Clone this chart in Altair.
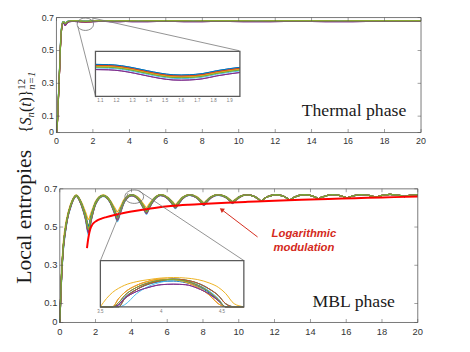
import altair as alt
import pandas as pd

# ---------------- data ----------------
line_names = [f"L{i:02d}" for i in range(1, 13)]
line_colors = ["#0072BD", "#D95319", "#EDB120", "#7E2F8E", "#77AC30", "#4DBEEE",
               "#A2142F", "#0072BD", "#D95319", "#EDB120", "#7E2F8E", "#77AC30"]

x_domain = [0, 20]
y_domain = [0, 0.7]
x_ticks = [0, 2, 4, 6, 8, 10, 12, 14, 16, 18, 20]
x_tick_labels = ["0", "2", "4", "6", "8", "10", "12", "14", "16", "18", "20"]
y_ticks = [0, 0.1, 0.3, 0.5, 0.7]
y_tick_labels = ["0", "0.1", "0.3", "0.5", "0.7"]

# thermal phase (top panel)
t_th = [0, 0.03, 0.06, 0.1, 0.14, 0.18, 0.22, 0.26, 0.3, 0.35, 0.41, 0.47, 0.54, 0.62, 0.72,
        0.85, 1.0, 1.2, 1.4, 1.6, 1.8, 2.0, 2.3, 2.7, 3.2, 3.8, 4.5, 5.5, 6.5, 7.5, 8.5, 9.5,
        11, 12.5, 14, 15.5, 17, 18.5, 20]
th_base = [0, 0.02, 0.08, 0.19, 0.30, 0.41, 0.53, 0.61, 0.65, 0.672, 0.673, 0.662, 0.668, 0.676,
           0.679, 0.68, 0.68, 0.679, 0.678, 0.677, 0.678, 0.679, 0.68, 0.68, 0.679, 0.68, 0.679,
           0.68, 0.68, 0.679, 0.68, 0.68, 0.679, 0.68, 0.68, 0.679, 0.68, 0.68, 0.68]
th_hi = [0, 0.022, 0.085, 0.2, 0.31, 0.42, 0.54, 0.62, 0.655, 0.675, 0.676, 0.666, 0.671, 0.678,
         0.681, 0.682, 0.682, 0.681, 0.680, 0.679, 0.680, 0.681, 0.682, 0.682, 0.681, 0.682, 0.681,
         0.682, 0.682, 0.681, 0.682, 0.682, 0.681, 0.682, 0.682, 0.681, 0.682, 0.682, 0.682]
th_lo = [0, 0.018, 0.075, 0.18, 0.29, 0.40, 0.52, 0.60, 0.645, 0.668, 0.670, 0.658, 0.664, 0.673,
         0.676, 0.677, 0.677, 0.676, 0.675, 0.674, 0.675, 0.676, 0.677, 0.677, 0.676, 0.677, 0.676,
         0.677, 0.677, 0.676, 0.677, 0.677, 0.676, 0.677, 0.677, 0.676, 0.677, 0.677, 0.677]
th_purple = [0, 0.018, 0.075, 0.18, 0.29, 0.40, 0.52, 0.60, 0.64, 0.664, 0.666, 0.652, 0.659, 0.671,
             0.675, 0.676, 0.676, 0.675, 0.674, 0.673, 0.674, 0.675, 0.676, 0.676, 0.675, 0.676, 0.675,
             0.676, 0.676, 0.675, 0.676, 0.676, 0.675, 0.676, 0.676, 0.675, 0.676, 0.676, 0.676]

# top inset (zoom of t in [1.07, 1.963])
tin_x_domain = [1.07, 1.963]
tin_y_domain = [0.668, 0.688]
tin_ticks = [1.1, 1.2, 1.3, 1.4, 1.5, 1.6, 1.7, 1.8, 1.9]
tin_tick_labels = ["1.1", "1.2", "1.3", "1.4", "1.5", "1.6", "1.7", "1.8", "1.9"]
t_tin = [1.07, 1.15, 1.23, 1.31, 1.39, 1.47, 1.55, 1.6, 1.65, 1.73, 1.82, 1.9, 1.963]
tin_blue = [0.6822, 0.6821, 0.6816, 0.6806, 0.6794, 0.6783, 0.6776, 0.6775, 0.6776, 0.6781, 0.6794, 0.6803, 0.6809]
tin_red = [0.6817, 0.6816, 0.6811, 0.6801, 0.6789, 0.6778, 0.6771, 0.6770, 0.6771, 0.6776, 0.6789, 0.6798, 0.6804]
tin_yel = [0.6813, 0.6812, 0.6807, 0.6797, 0.6785, 0.6774, 0.6767, 0.6766, 0.6767, 0.6772, 0.6785, 0.6794, 0.6800]
tin_green = [0.6810, 0.6809, 0.6804, 0.6794, 0.6782, 0.6771, 0.6764, 0.6763, 0.6764, 0.6769, 0.6782, 0.6791, 0.6797]
tin_cyan = [0.6806, 0.6805, 0.6800, 0.6790, 0.6778, 0.6767, 0.6760, 0.6759, 0.6760, 0.6765, 0.6778, 0.6787, 0.6793]
tin_purple = [0.6799, 0.6798, 0.6793, 0.6783, 0.6771, 0.6760, 0.6753, 0.6752, 0.6753, 0.6758, 0.6771, 0.6780, 0.6786]

# MBL phase (bottom panel)
t_head = [0, 0.05, 0.1, 0.2, 0.3, 0.45, 0.6, 0.75, 0.92, 1.2, 1.45, 1.6, 1.75, 2.0, 2.42, 2.82,
          3.07, 3.22, 3.37, 3.62, 4.02, 4.44, 4.69, 4.84, 4.99, 5.24, 5.64, 6.06, 6.31, 6.46, 6.61,
          6.86, 7.25, 7.65, 7.9, 8.05, 8.2, 8.45, 8.85, 9.25, 9.5, 9.65, 9.8, 10.05]
t_tail = [10.45, 10.85, 11.1, 11.25, 11.4, 11.65, 12.05, 12.45, 12.7, 12.85, 13.0, 13.25, 13.65,
          14.05, 14.3, 14.45, 14.6, 14.85, 15.25, 15.65, 15.9, 16.05, 16.2, 16.45, 16.85, 17.25,
          17.5, 17.65, 17.8, 18.05, 18.45, 18.85, 19.1, 19.25, 19.4, 19.65, 20.0]
mbl_base_head = [0, 0.13, 0.25, 0.40, 0.48, 0.56, 0.61, 0.645, 0.664, 0.622, 0.548, 0.487, 0.545,
                 0.625, 0.664, 0.632, 0.578, 0.546, 0.58, 0.638, 0.667, 0.641, 0.602, 0.578, 0.604,
                 0.642, 0.668, 0.649, 0.622, 0.604, 0.622, 0.652, 0.668, 0.655, 0.632, 0.618, 0.633,
                 0.656, 0.668, 0.658, 0.640, 0.628, 0.640, 0.658]
mbl_hi_head = [0, 0.13, 0.25, 0.40, 0.48, 0.56, 0.61, 0.646, 0.665, 0.626, 0.556, 0.505, 0.556,
               0.628, 0.665, 0.635, 0.585, 0.556, 0.587, 0.641, 0.668, 0.643, 0.607, 0.586, 0.609,
               0.645, 0.668, 0.651, 0.626, 0.61, 0.626, 0.654, 0.668, 0.656, 0.635, 0.622, 0.636,
               0.657, 0.668, 0.659, 0.642, 0.631, 0.642, 0.659]
mbl_lo_head = [0, 0.12, 0.24, 0.39, 0.47, 0.555, 0.605, 0.643, 0.662, 0.618, 0.54, 0.472, 0.536,
               0.621, 0.662, 0.629, 0.572, 0.537, 0.574, 0.635, 0.665, 0.638, 0.598, 0.572, 0.6,
               0.639, 0.666, 0.647, 0.619, 0.6, 0.619, 0.65, 0.667, 0.653, 0.63, 0.615, 0.631,
               0.654, 0.667, 0.657, 0.638, 0.626, 0.638, 0.657]
mbl_yel_head = [0, 0.14, 0.27, 0.42, 0.5, 0.57, 0.618, 0.65, 0.668, 0.632, 0.575, 0.54, 0.575,
                0.635, 0.668, 0.64, 0.6, 0.58, 0.603, 0.648, 0.67, 0.65, 0.618, 0.602, 0.62,
                0.65, 0.67, 0.655, 0.632, 0.618, 0.632, 0.657, 0.67, 0.659, 0.64, 0.628, 0.64,
                0.66, 0.67, 0.661, 0.645, 0.636, 0.645, 0.661]
mbl_cya_head = [0, 0.12, 0.23, 0.38, 0.46, 0.55, 0.6, 0.64, 0.661, 0.615, 0.532, 0.458, 0.53,
                0.618, 0.661, 0.626, 0.566, 0.528, 0.568, 0.632, 0.664, 0.636, 0.594, 0.566, 0.596,
                0.637, 0.665, 0.645, 0.615, 0.596, 0.615, 0.648, 0.666, 0.652, 0.627, 0.612, 0.628,
                0.653, 0.666, 0.656, 0.636, 0.623, 0.636, 0.656]
mbl_tail = [0.668, 0.661, 0.647, 0.636, 0.647, 0.66,
            0.669, 0.663, 0.651, 0.641, 0.651, 0.662,
            0.669, 0.664, 0.655, 0.647, 0.655, 0.663,
            0.670, 0.665, 0.658, 0.652, 0.658, 0.665,
            0.670, 0.666, 0.661, 0.656, 0.661, 0.666,
            0.671, 0.667, 0.663, 0.660, 0.663, 0.667,
            0.670]

# logarithmic modulation (red)
t_log = [1.52, 1.56, 1.6, 1.65, 1.7, 1.8, 1.9, 2.05, 2.3, 2.6, 3.0, 3.5, 4.0, 4.6, 5.3, 6.2,
         7.2, 8.2, 9.3, 10.5, 12, 13.5, 15, 16.5, 18, 20]
v_log = [0.39, 0.42, 0.445, 0.47, 0.489, 0.51, 0.522, 0.532, 0.543, 0.552, 0.562, 0.572, 0.581,
         0.59, 0.6, 0.61, 0.617, 0.622, 0.627, 0.632, 0.638, 0.643, 0.647, 0.651, 0.655, 0.66]

# bottom inset (zoom of t in [3.5, 4.68])
bin_x_domain = [3.5, 4.68]
bin_y_domain = [0.638, 0.683]
bin_ticks = [3.5, 4, 4.5]
bin_tick_labels = ["3.5", "4", "4.5"]
t_bin = [3.5, 3.55, 3.6, 3.65, 3.7, 3.8, 3.9, 4.0, 4.1, 4.2, 4.3, 4.4, 4.47, 4.53, 4.6, 4.68]
bin_yel = [0.638, 0.646, 0.652, 0.656, 0.659, 0.6625, 0.6645, 0.666, 0.6665, 0.666, 0.6645, 0.661, 0.657, 0.651, 0.641, 0.63]
bin_base = [0.61, 0.622, 0.633, 0.642, 0.649, 0.657, 0.6615, 0.664, 0.6645, 0.663, 0.659, 0.652, 0.645, 0.637, 0.625, 0.61]
bin_left = [0.615, 0.627, 0.637, 0.646, 0.652, 0.659, 0.663, 0.665, 0.6645, 0.662, 0.657, 0.649, 0.641, 0.633, 0.62, 0.605]
bin_right = [0.605, 0.617, 0.629, 0.638, 0.646, 0.655, 0.6605, 0.6635, 0.665, 0.664, 0.661, 0.655, 0.649, 0.641, 0.63, 0.615]
bin_cyan = [0.6, 0.612, 0.623, 0.632, 0.640, 0.651, 0.658, 0.662, 0.6635, 0.6625, 0.6595, 0.653, 0.646, 0.638, 0.626, 0.61]
bin_purple = [0.61, 0.621, 0.632, 0.64, 0.646, 0.653, 0.657, 0.6595, 0.66, 0.6595, 0.656, 0.65, 0.644, 0.636, 0.625, 0.61]
bin_blue = [0.608, 0.62, 0.631, 0.64, 0.647, 0.655, 0.66, 0.6625, 0.663, 0.6615, 0.658, 0.651, 0.644, 0.636, 0.624, 0.61]

# annotations (in panel data units)
top_ellipse = {"t": [1.585], "v": [0.6595]}
bot_ellipse = {"t": [4.16], "v": [0.659]}
top_conn = {"x0": [1.17, 1.995], "y0": [0.647, 0.697], "x1": [2.16, 10.03], "y1": [0.215, 0.498]}
bot_conn = {"x0": [3.81, 4.41], "y0": [0.677, 0.690], "x1": [2.27, 10.29], "y1": [0.324, 0.324]}
arrow_line = {"x0": [11.05], "y0": [0.448], "x1": [9.073], "y1": [0.5893]}
arrow_head = {"t": [9.073], "v": [0.5893]}
log_text = {"t": [13.64, 13.64], "v": [0.446, 0.377], "label": ["Logarithmic", "modulation"]}
thermal_text = {"t": [19.19], "v": [0.0999], "label": ["Thermal phase"]}
mbl_text = {"t": [18.72], "v": [0.0808], "label": ["MBL phase"]}

# ---------------- helpers ----------------
SANS = "Liberation Sans, Arial, Helvetica, sans-serif"
SERIF = "Liberation Serif, Times New Roman, DejaVu Serif, serif"
AX = "#555555"
LBL = "#333333"


def S(domain, rng, clamp=False):
    if clamp:
        return alt.Scale(domain=domain, range=rng, nice=False, zero=False, clamp=True)
    return alt.Scale(domain=domain, range=rng, nice=False, zero=False)


XS_TOP = S(x_domain, [49.3, 420.3]); YS_TOP = S(y_domain, [123.7, 6.7])
XS_BOT = S(x_domain, [52.7, 417.0]); YS_BOT = S(y_domain, [317.0, 181.0])
XS_TIN = S(tin_x_domain, [89.0, 236.0]); YS_TIN = S(tin_y_domain, [87.0, 41.0])
XS_BIN = S(bin_x_domain, [94.0, 240.0]); YS_BIN = S(bin_y_domain, [301.0, 254.0], clamp=True)


def qx(f, sc):
    return alt.X(f, type="quantitative", scale=sc, axis=None)


def qy(f, sc):
    return alt.Y(f, type="quantitative", scale=sc, axis=None)


def color_enc():
    return alt.Color("line:N", scale=alt.Scale(domain=line_names, range=line_colors), legend=None)


def long_df(t, series):
    rows = []
    for name, vals in zip(line_names, series):
        assert len(vals) == len(t), (name, len(vals), len(t))
        for a, b in zip(t, vals):
            rows.append({"t": a, "v": b, "line": name})
    return pd.DataFrame(rows)


def lines_layer(df, xs, ys, width=1.0):
    return alt.Chart(df).mark_line(strokeWidth=width, interpolate="monotone").encode(
        x=qx("t", xs), y=qy("v", ys), color=color_enc())


def frame_layers(xs, ys, fs, label_dy):
    out = []
    fr = pd.DataFrame({"x0": [x_domain[0]], "x1": [x_domain[1]], "y0": [y_domain[0]], "y1": [y_domain[1]]})
    out.append(alt.Chart(fr).mark_rect(fill="transparent", stroke=AX, strokeWidth=0.8).encode(
        x=qx("x0", xs), x2="x1", y=qy("y0", ys), y2="y1"))
    dfx = pd.DataFrame({"t": x_ticks, "label": x_tick_labels,
                        "lo": [y_domain[0]] * len(x_ticks), "hi": [y_domain[1]] * len(x_ticks)})
    dfy = pd.DataFrame({"v": y_ticks, "label": y_tick_labels,
                        "lo": [x_domain[0]] * len(y_ticks), "hi": [x_domain[1]] * len(y_ticks)})
    tk = dict(thickness=0.8, color=AX, size=3.5)
    out.append(alt.Chart(dfx).mark_tick(orient="vertical", yOffset=-1.75, **tk).encode(x=qx("t", xs), y=qy("lo", ys)))
    out.append(alt.Chart(dfx).mark_tick(orient="vertical", yOffset=1.75, **tk).encode(x=qx("t", xs), y=qy("hi", ys)))
    out.append(alt.Chart(dfy).mark_tick(orient="horizontal", xOffset=1.75, **tk).encode(x=qx("lo", xs), y=qy("v", ys)))
    out.append(alt.Chart(dfy).mark_tick(orient="horizontal", xOffset=-1.75, **tk).encode(x=qx("hi", xs), y=qy("v", ys)))
    out.append(alt.Chart(dfx).mark_text(font=SANS, fontSize=fs, color=LBL, baseline="middle", dy=label_dy).encode(
        x=qx("t", xs), y=qy("lo", ys), text="label:N"))
    out.append(alt.Chart(dfy).mark_text(font=SANS, fontSize=fs, color=LBL, baseline="middle", align="right", dx=-2.5).encode(
        x=qx("lo", xs), y=qy("v", ys), text="label:N"))
    return out


def ellipse_layer(d, xs, ys, size, ratio):
    k = round(0.5523 * ratio, 3)
    path = (f"M-1,0C-1,-{k},-0.5523,-{ratio},0,-{ratio}C0.5523,-{ratio},1,-{k},1,0"
            f"C1,{k},0.5523,{ratio},0,{ratio}C-0.5523,{ratio},-1,{k},-1,0Z")
    return alt.Chart(pd.DataFrame(d)).mark_point(shape=path, size=size, filled=False, color="#6a6a6a",
                                                 strokeWidth=0.8, opacity=1).encode(x=qx("t", xs), y=qy("v", ys))


def rule_layer(d, xs, ys, color, width):
    return alt.Chart(pd.DataFrame(d)).mark_rule(color=color, strokeWidth=width).encode(
        x=qx("x0", xs), y=qy("y0", ys), x2="x1", y2="y1")


def inset_box(xd, yd, xs, ys, fill):
    df = pd.DataFrame({"x0": [xd[0]], "x1": [xd[1]], "y0": [yd[0]], "y1": [yd[1]]})
    if fill:
        m = alt.Chart(df).mark_rect(fill="white")
    else:
        m = alt.Chart(df).mark_rect(fill="transparent", stroke="#5a5a5a", strokeWidth=1.3)
    return m.encode(x=qx("x0", xs), x2="x1", y=qy("y0", ys), y2="y1")


def inset_labels(ticks, labels, ybase, xs, ys):
    df = pd.DataFrame({"t": ticks, "label": labels, "lo": [ybase] * len(ticks)})
    return alt.Chart(df).mark_text(font=SANS, fontSize=4.5, color="#777777", baseline="middle", dy=5).encode(
        x=qx("t", xs), y=qy("lo", ys), text="label:N")


# ---------------- data tables ----------------
df_th = long_df(t_th, [th_hi, th_base, th_base, th_purple, th_lo, th_hi,
                       th_lo, th_base, th_lo, th_base, th_purple, th_base])
df_tin = long_df(t_tin, [tin_blue, tin_red, tin_yel, tin_purple, tin_green, tin_cyan,
                         tin_red, tin_blue, tin_red, tin_yel, tin_purple, tin_green])
t_mbl = t_head + t_tail
mb_base = mbl_base_head + mbl_tail
mb_hi = mbl_hi_head + mbl_tail
mb_lo = mbl_lo_head + mbl_tail
mb_yel = mbl_yel_head + mbl_tail
mb_cya = mbl_cya_head + mbl_tail
df_mbl = long_df(t_mbl, [mb_lo, mb_hi, mb_yel, mb_base, mb_hi, mb_cya,
                         mb_base, mb_hi, mb_lo, mb_base, mb_lo, mb_base])
df_bin = long_df(t_bin, [bin_blue, bin_left, bin_yel, bin_purple, bin_right, bin_cyan,
                         bin_base, bin_right, bin_right, bin_left, bin_purple, bin_base])
df_log = pd.DataFrame({"t": t_log, "v": v_log})

# ---------------- layers ----------------
layers = []
# top panel
layers.append(lines_layer(df_th, XS_TOP, YS_TOP, 1.2))
layers += frame_layers(XS_TOP, YS_TOP, 9, 8.3)
layers.append(ellipse_layer(top_ellipse, XS_TOP, YS_TOP, 276, 0.76))
layers.append(rule_layer(top_conn, XS_TOP, YS_TOP, "#777777", 0.8))
layers.append(inset_box(tin_x_domain, tin_y_domain, XS_TIN, YS_TIN, True))
layers.append(lines_layer(df_tin, XS_TIN, YS_TIN, 1.0))
layers.append(inset_box(tin_x_domain, tin_y_domain, XS_TIN, YS_TIN, False))
layers.append(inset_labels(tin_ticks, tin_tick_labels, tin_y_domain[0], XS_TIN, YS_TIN))
layers.append(alt.Chart(pd.DataFrame(thermal_text)).mark_text(
    font=SERIF, fontSize=18, align="right", baseline="alphabetic", color="#1a1a1a").encode(
    x=qx("t", XS_TOP), y=qy("v", YS_TOP), text="label:N"))

# bottom panel
layers.append(lines_layer(df_mbl, XS_BOT, YS_BOT, 1.35))
layers.append(alt.Chart(df_log).mark_line(color="#FF0000", strokeWidth=2, interpolate="monotone").encode(
    x=qx("t", XS_BOT), y=qy("v", YS_BOT)))
layers += frame_layers(XS_BOT, YS_BOT, 9.5, 9.3)
layers.append(ellipse_layer(bot_ellipse, XS_BOT, YS_BOT, 361, 0.72))
layers.append(rule_layer(bot_conn, XS_BOT, YS_BOT, "#777777", 0.8))
layers.append(inset_box(bin_x_domain, bin_y_domain, XS_BIN, YS_BIN, True))
layers.append(lines_layer(df_bin, XS_BIN, YS_BIN, 1.0))
layers.append(inset_box(bin_x_domain, bin_y_domain, XS_BIN, YS_BIN, False))
layers.append(inset_labels(bin_ticks, bin_tick_labels, bin_y_domain[0], XS_BIN, YS_BIN))
layers.append(rule_layer(arrow_line, XS_BOT, YS_BOT, "#D42A1C", 1.0))
layers.append(alt.Chart(pd.DataFrame(arrow_head)).mark_point(
    shape="triangle", size=28, filled=True, color="#D42A1C", opacity=1, angle=307).encode(
    x=qx("t", XS_BOT), y=qy("v", YS_BOT)))
layers.append(alt.Chart(pd.DataFrame(log_text)).mark_text(
    font=SANS, fontSize=11.5, fontWeight="bold", fontStyle="italic", color="#D42A1C",
    align="center", baseline="alphabetic").encode(
    x=qx("t", XS_BOT), y=qy("v", YS_BOT), text="label:N"))
layers.append(alt.Chart(pd.DataFrame(mbl_text)).mark_text(
    font=SERIF, fontSize=18, align="right", baseline="alphabetic", color="#1a1a1a").encode(
    x=qx("t", XS_BOT), y=qy("v", YS_BOT), text="label:N"))

# y titles (rotated)
title_pieces = [
    ("{", 23.7, 124.0, 16, "normal"),
    ("S", 23.7, 116.3, 16, "italic"),
    ("n", 26.7, 108.3, 11, "italic"),
    ("(", 23.7, 102.8, 16, "normal"),
    ("t", 23.7, 97.5, 16, "italic"),
    (")}", 23.7, 93.1, 16, "normal"),
    ("12", 17.2, 80.1, 11, "normal"),
    ("n=1", 27.2, 80.1, 11, "italic"),
]
for txt, px, py, fs, st in title_pieces:
    layers.append(alt.Chart(pd.DataFrame({"label": [txt]})).mark_text(
        angle=270, align="left", baseline="alphabetic", font=SERIF, fontSize=fs, fontStyle=st,
        color="#1a1a1a").encode(x=alt.value(px), y=alt.value(py), text="label:N"))
layers.append(alt.Chart(pd.DataFrame({"label": ["Local entropies"]})).mark_text(
    angle=270, align="center", baseline="alphabetic", font=SERIF, fontSize=22, color="#1a1a1a").encode(
    x=alt.value(23.7), y=alt.value(209.5), text="label:N"))

chart = alt.layer(*layers).resolve_scale(
    x="independent", y="independent", color="independent"
).properties(
    width=462, height=344, padding=0, autosize=alt.AutoSizeParams(type="none")
).configure_view(stroke="transparent")

chart.save("out.html", embed_options={"renderer": "svg", "actions": False})
